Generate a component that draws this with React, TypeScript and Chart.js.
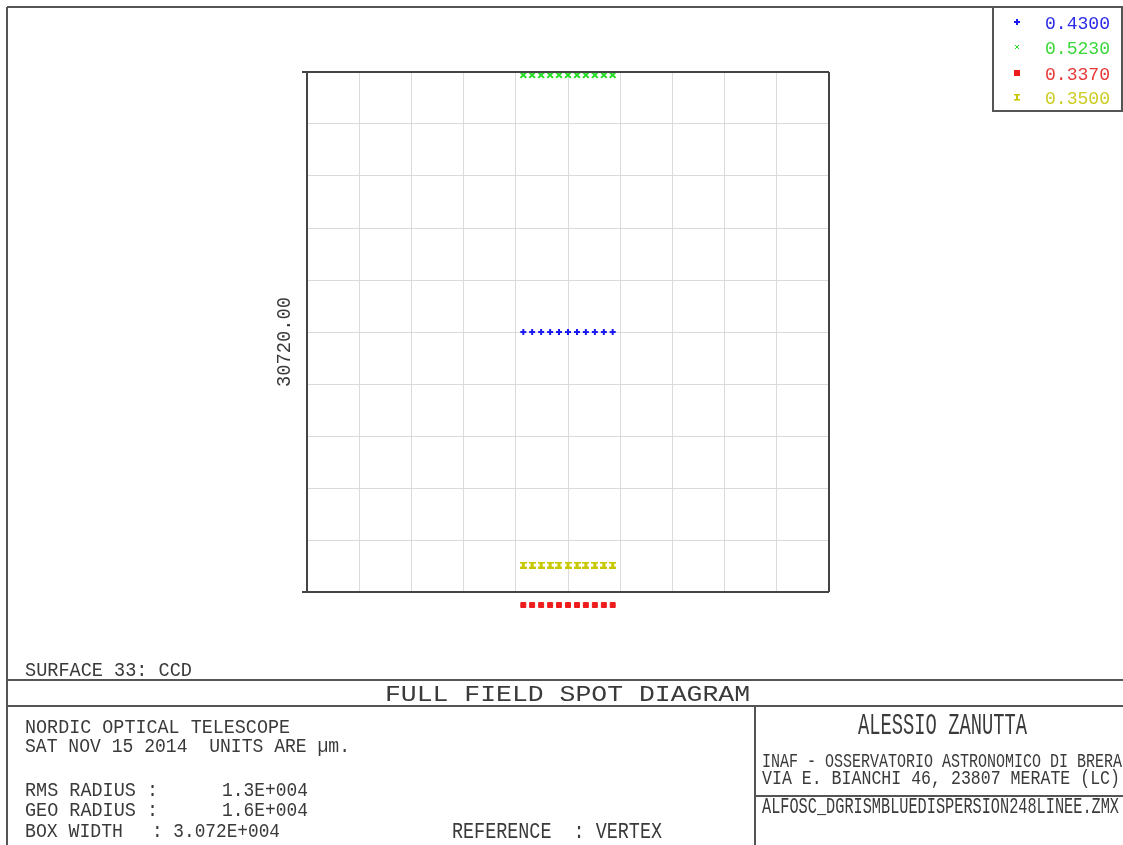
import React, { useEffect, useRef } from "react";
import { Chart, registerables } from "chart.js";

Chart.register(...registerables);

// ---- data (µm) ----
const wavelengths = ["0.4300", "0.5230", "0.3370", "0.3500"];
const spotX = [-2630, -2110, -1580, -1050, -530, 0, 530, 1050, 1580, 2110, 2630];
const yBlue = [30720, 30720, 30720, 30720, 30720, 30720, 30720, 30720, 30720, 30720, 30720];
const yGreen = [45900, 45900, 45900, 45900, 45900, 45900, 45900, 45900, 45900, 45900, 45900];
const yRed = [14590, 14590, 14590, 14590, 14590, 14590, 14590, 14590, 14590, 14590, 14590];
const yYellow = [16950, 16950, 16950, 16950, 16950, 16950, 16950, 16950, 16950, 16950, 16950];
const boxWidth = 30720;
const centerY = 30720;
const centerLabel = "30720.00";

const FONT = '"Liberation Mono", "DejaVu Sans Mono", monospace';
const TXT = "#3a3a3a";

function makeIMarker(color: string) {
  const c = document.createElement("canvas");
  c.width = 7;
  c.height = 7;
  const g = c.getContext("2d")!;
  g.fillStyle = color;
  g.fillRect(0, 0, 7, 2);
  g.fillRect(0, 5, 7, 2);
  g.fillRect(2, 2, 3, 3);
  return c;
}

function fitText(
  ctx: CanvasRenderingContext2D,
  text: string,
  x: number,
  baseY: number,
  width: number,
  capH: number,
  color = TXT
) {
  const size = capH / 0.7;
  ctx.save();
  ctx.font = `${size}px ${FONT}`;
  ctx.fillStyle = color;
  ctx.textBaseline = "alphabetic";
  ctx.textAlign = "left";
  const m = ctx.measureText(text).width;
  ctx.translate(x, baseY);
  ctx.scale(width / m, 1);
  ctx.fillText(text, 0, 0);
  ctx.restore();
}

function line(ctx: CanvasRenderingContext2D, x1: number, y1: number, x2: number, y2: number, w = 2, c = "#555") {
  ctx.save();
  ctx.strokeStyle = c;
  ctx.lineWidth = w;
  ctx.beginPath();
  ctx.moveTo(x1, y1);
  ctx.lineTo(x2, y2);
  ctx.stroke();
  ctx.restore();
}

// lets spots that fall just outside the box (below it) still be drawn by the library
const areaPlugin = {
  id: "spotArea",
  beforeDatasetsDraw(chart: any) {
    chart.$savedArea = chart.chartArea;
    const a = chart.chartArea;
    chart.chartArea = { ...a, top: a.top - 30, bottom: a.bottom + 40 };
  },
  afterDatasetsDraw(chart: any) {
    if (chart.$savedArea) chart.chartArea = chart.$savedArea;
  },
};

const framePlugin = {
  id: "zemaxFrame",
  afterDraw(chart: any) {
    const ctx = chart.ctx as CanvasRenderingContext2D;
    const a = chart.chartArea;
    // plot box
    line(ctx, a.left - 5, a.top, a.right, a.top, 2, "#444");
    line(ctx, a.left - 5, a.bottom, a.right, a.bottom, 2, "#444");
    line(ctx, a.left, a.top, a.left, a.bottom, 2, "#444");
    line(ctx, a.right, a.top, a.right, a.bottom, 2, "#444");

    // outer frame & title block
    line(ctx, 7, 7, 7, 845);
    line(ctx, 7, 7, 1123, 7);
    line(ctx, 7, 680, 1123, 680);
    line(ctx, 7, 706, 1123, 706);
    line(ctx, 755, 706, 755, 845);
    line(ctx, 755, 796, 1123, 796);

    // rotated center label
    ctx.save();
    ctx.translate(290, 387);
    ctx.rotate(-Math.PI / 2);
    fitText(ctx, centerLabel, 0, 0, 90, 14);
    ctx.restore();

    // texts
    fitText(ctx, "SURFACE 33: CCD", 25, 676, 167, 14);
    fitText(ctx, "FULL FIELD SPOT DIAGRAM", 385, 701, 365, 16);
    fitText(ctx, "NORDIC OPTICAL TELESCOPE", 25, 733, 265, 14);
    fitText(ctx, "SAT NOV 15 2014  UNITS ARE µm.", 25, 752, 325, 14);
    fitText(ctx, "RMS RADIUS :", 25, 796, 133, 14);
    fitText(ctx, "1.3E+004", 222, 796, 86, 14);
    fitText(ctx, "GEO RADIUS :", 25, 816, 133, 14);
    fitText(ctx, "1.6E+004", 222, 816, 86, 14);
    fitText(ctx, "BOX WIDTH", 25, 837, 98, 14);
    fitText(ctx, ": 3.072E+004", 152, 837, 128, 14);
    fitText(ctx, "REFERENCE  : VERTEX", 452, 838, 210, 15);
    fitText(ctx, "ALESSIO ZANUTTA", 858, 734, 169, 20);
    fitText(ctx, "INAF - OSSERVATORIO ASTRONOMICO DI BRERA", 762, 767, 360, 14);
    fitText(ctx, "VIA E. BIANCHI 46, 23807 MERATE (LC)", 762, 784, 358, 14);
    fitText(ctx, "ALFOSC_DGRISMBLUEDISPERSION248LINEE.ZMX", 762, 813, 357, 15);

    // legend
    ctx.save();
    ctx.strokeStyle = "#555";
    ctx.lineWidth = 2;
    ctx.strokeRect(993, 7, 129, 104);
    ctx.restore();
    const rowY = [22, 47, 73, 97];
    const legendColors = ["#2a2ae8", "#3ad83a", "#e83838", "#cccc22"];
    chart.data.datasets.forEach((ds: any, i: number) => {
      const y = rowY[i];
      ctx.save();
      ctx.fillStyle = ds.borderColor;
      ctx.strokeStyle = ds.borderColor;
      ctx.lineWidth = 1;
      if (i === 0) {
        ctx.fillRect(1016, y - 3, 2, 6);
        ctx.fillRect(1014, y - 1, 6, 2);
      } else if (i === 1) {
        ctx.beginPath();
        ctx.moveTo(1015, y - 2); ctx.lineTo(1019, y + 2);
        ctx.moveTo(1019, y - 2); ctx.lineTo(1015, y + 2);
        ctx.stroke();
      } else if (i === 2) {
        ctx.fillRect(1014, y - 3, 6, 6);
      } else {
        ctx.fillRect(1014, y - 3, 6, 1.5);
        ctx.fillRect(1014, y + 2, 6, 1.5);
        ctx.fillRect(1016, y - 2, 2, 4);
      }
      ctx.restore();
      fitText(ctx, ds.label, 1045, y + 7, 65, 13, legendColors[i]);
    });
  },
};

export default function App() {
  const ref = useRef<HTMLCanvasElement | null>(null);
  useEffect(() => {
    const canvas = ref.current!;
    const mk = (ys: number[]) => spotX.map((x, i) => ({ x, y: ys[i] }));
    const chart = new Chart(canvas, {
      type: "scatter",
      data: {
        datasets: [
          {
            label: wavelengths[0],
            data: mk(yBlue),
            borderColor: "#1a1af0",
            backgroundColor: "#1a1af0",
            pointStyle: "cross",
            pointRadius: 3,
            borderWidth: 2,
            clip: false,
          } as any,
          {
            label: wavelengths[1],
            data: mk(yGreen),
            borderColor: "#22dd22",
            backgroundColor: "#22dd22",
            pointStyle: "crossRot",
            pointRadius: 4,
            borderWidth: 2,
            clip: false,
          },
          {
            label: wavelengths[2],
            data: mk(yRed),
            borderColor: "#ee1c1c",
            backgroundColor: "#ee1c1c",
            pointStyle: "rect",
            pointRadius: 3.5,
            borderWidth: 1,
            clip: false,
          },
          {
            label: wavelengths[3],
            data: mk(yYellow),
            borderColor: "#c8c800",
            backgroundColor: "#c8c800",
            pointStyle: makeIMarker("#c8c800"),
            clip: false,
          },
        ],
      },
      options: {
        responsive: false,
        animation: false,
        devicePixelRatio: 1,
        layout: { padding: { left: 307, right: 294, top: 72, bottom: 253 } },
        plugins: { legend: { display: false }, tooltip: { enabled: false }, title: { display: false } },
        scales: {
          x: {
            type: "linear",
            min: -boxWidth / 2,
            max: boxWidth / 2,
            ticks: { display: false, stepSize: boxWidth / 10 },
            grid: { color: "#dadada", lineWidth: 1, drawTicks: false },
            border: { display: false },
            afterFit: (s: any) => { s.height = 0; },
          } as any,
          y: {
            type: "linear",
            min: centerY - boxWidth / 2,
            max: centerY + boxWidth / 2,
            ticks: { display: false, stepSize: boxWidth / 10 },
            grid: { color: "#dadada", lineWidth: 1, drawTicks: false },
            border: { display: false },
            afterFit: (s: any) => { s.width = 0; },
          } as any,
        },
      },
      plugins: [areaPlugin, framePlugin],
    });
    return () => chart.destroy();
  }, []);
  return (
    <div style={{ position: "absolute", left: 0, top: 0, width: 1123, height: 845, background: "#fff" }}>
      <canvas ref={ref} width={1123} height={845} style={{ display: "block" }} />
    </div>
  );
}
